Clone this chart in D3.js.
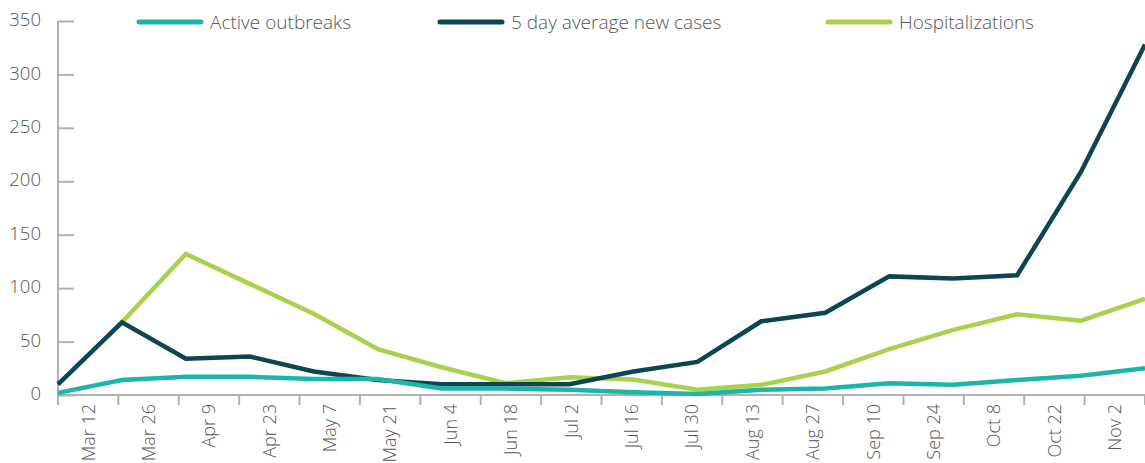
<!DOCTYPE html>
<html>
<head>
<meta charset="utf-8">
<title>Outbreaks, cases and hospitalizations</title>
<script src="https://cdnjs.cloudflare.com/ajax/libs/d3/7.8.5/d3.min.js"></script>
<style>
body { margin: 0; background: #fff; }
svg text { font-family: "Open Sans", "Noto Sans", sans-serif; font-weight: 300; fill: #555658; }
</style>
</head>
<body>
<svg id="chart"></svg>
<script>
var dates = ["Mar 12", "Mar 26", "Apr 9", "Apr 23", "May 7", "May 21", "Jun 4", "Jun 18",
  "Jul 2", "Jul 16", "Jul 30", "Aug 13", "Aug 27", "Sep 10", "Sep 24", "Oct 8", "Oct 22", "Nov 2"];

var activeOutbreaks = [2, 14, 17, 17, 15, 15, 6, 6, 5, 2.5, 1, 5, 6, 11, 9.5, 14, 18, 25];
var newCases5Day   = [10, 68, 34, 36, 22, 14, 10, 10, 10, 22, 31, 69, 77, 111, 109, 112, 209, 328];
var hospitalizations = [null, 68, 132, 104, 76, 43, 26, 11, 16.5, 14.5, 5, 9.5, 22, 43, 61, 75.5, 69.5, 90];

var yTicks = [0, 50, 100, 150, 200, 250, 300, 350];

var series = [
  { name: "Hospitalizations", values: hospitalizations, color: "#a9d14e" },
  { name: "5 day average new cases", values: newCases5Day, color: "#0c4650" },
  { name: "Active outbreaks", values: activeOutbreaks, color: "#1bb6a9" }
];
var legendOrder = ["Active outbreaks", "5 day average new cases", "Hospitalizations"];

var width = 1145, height = 463;
var margin = { top: 21, right: 0, bottom: 68, left: 58 };

var svg = d3.select("#chart")
  .attr("width", width)
  .attr("height", height);

var x = d3.scaleBand()
  .domain(dates)
  .range([margin.left, width]);

// line points are spread edge to edge, unlike the label bands
var xp = d3.scalePoint()
  .domain(dates)
  .range([margin.left, width]);

var y = d3.scaleLinear()
  .domain([0, 350])
  .range([height - margin.bottom, margin.top]);

// y axis: ticks point inward
var yAxis = svg.append("g")
  .attr("transform", "translate(" + margin.left + ",0)")
  .call(d3.axisRight(y).tickValues(yTicks).tickSize(16).tickFormat(d3.format("d")));
yAxis.select(".domain").attr("stroke", "#b1b1b3").attr("stroke-width", 2)
  .attr("d", "M0," + y(0) + "V" + y(350));
yAxis.selectAll(".tick line").attr("stroke", "#b1b1b3").attr("stroke-width", 2);
yAxis.selectAll(".tick text")
  .attr("x", -17)
  .attr("dy", "0.25em")
  .style("text-anchor", "end")
  .style("font-size", "18.5px");

// x axis
var xAxis = svg.append("g")
  .attr("transform", "translate(0," + y(0) + ")")
  .call(d3.axisBottom(x).tickSize(0));
xAxis.select(".domain").remove();
xAxis.selectAll(".tick text")
  .attr("transform", "rotate(-90)")
  .attr("x", -9)
  .attr("y", 0)
  .attr("dy", "0.35em")
  .style("text-anchor", "end")
  .style("font-size", "18px");

var edges = dates.map(function(d) { return x(d); }).concat([width]);
xAxis.selectAll(".sep")
  .data(edges)
  .enter().append("line")
  .attr("class", "sep")
  .attr("x1", function(d) { return d; })
  .attr("x2", function(d) { return d; })
  .attr("y1", 0)
  .attr("y2", 10)
  .attr("stroke", "#b1b1b3")
  .attr("stroke-width", 2);
xAxis.append("line")
  .attr("x1", margin.left - 1).attr("x2", width)
  .attr("stroke", "#b1b1b3").attr("stroke-width", 2);

var line = d3.line()
  .defined(function(d) { return d != null; })
  .x(function(d, i) { return xp(dates[i]); })
  .y(function(d) { return y(d); });

svg.selectAll(".series")
  .data(series)
  .enter().append("path")
  .attr("class", "series")
  .attr("fill", "none")
  .attr("stroke", function(d) { return d.color; })
  .attr("stroke-width", 4.5)
  .attr("stroke-linejoin", "miter")
  .attr("d", function(d) { return line(d.values); });

// legend
var legendX = [137, 438, 826];
var legend = svg.selectAll(".legend")
  .data(legendOrder)
  .enter().append("g")
  .attr("class", "legend")
  .attr("transform", function(d, i) { return "translate(" + legendX[i] + ",22)"; });
legend.append("line")
  .attr("x1", 2).attr("x2", 64)
  .attr("stroke", function(d) {
    return series.find(function(s) { return s.name === d; }).color;
  })
  .attr("stroke-width", 5)
  .attr("stroke-linecap", "round");
legend.append("text")
  .attr("x", 73)
  .attr("dy", "0.35em")
  .style("font-size", "19px")
  .text(function(d) { return d; });
</script>
</body>
</html>
